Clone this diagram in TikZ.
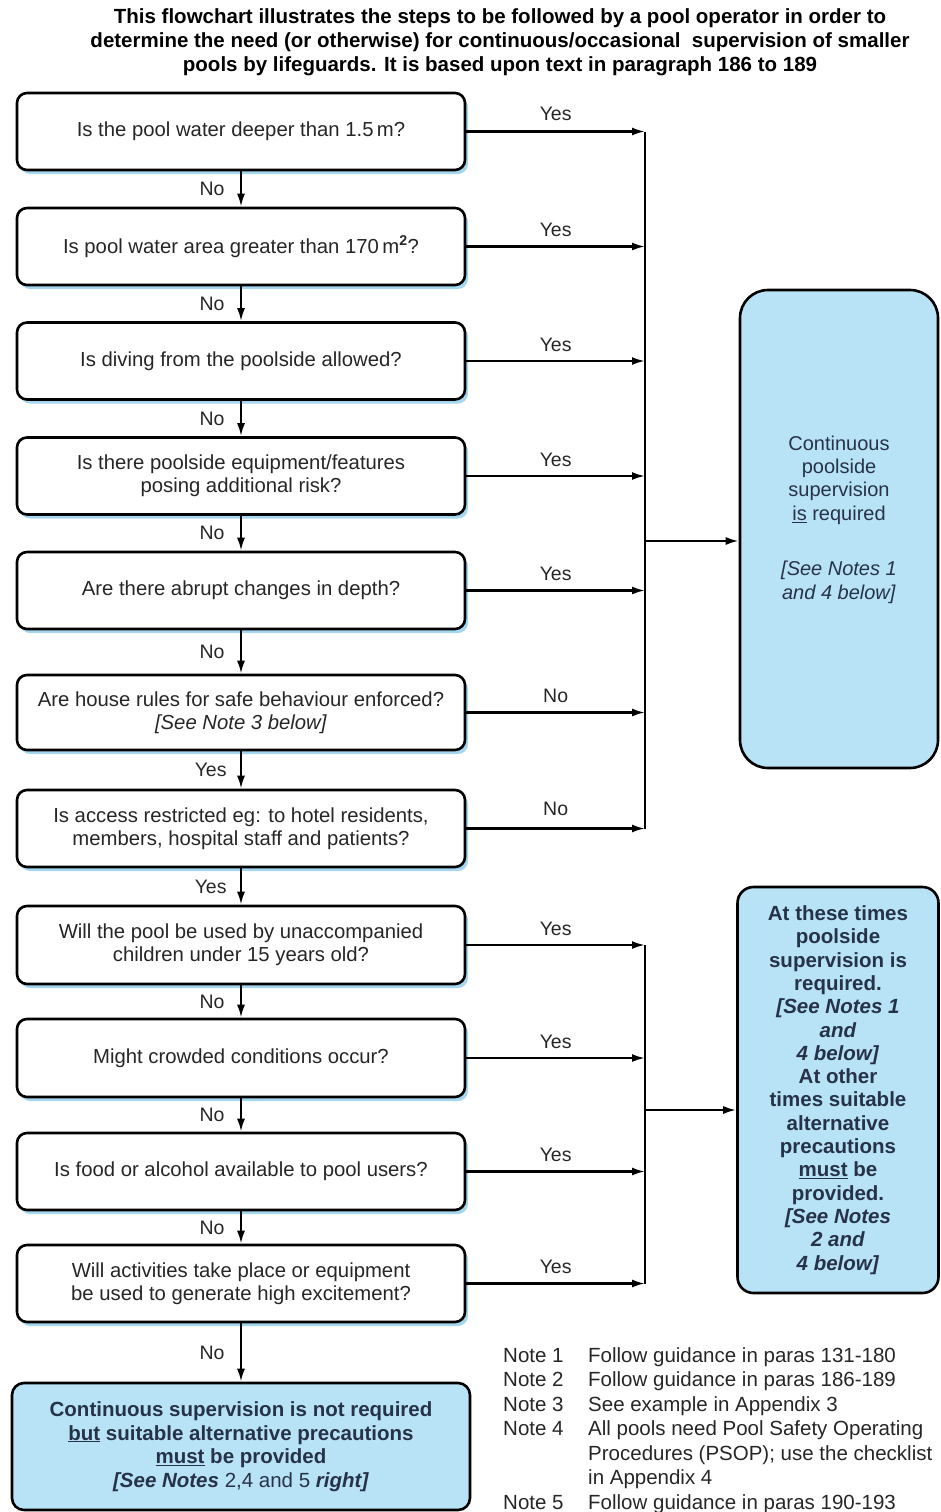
\documentclass[tikz,border=0pt]{standalone}
\usepackage{fontspec}
\setmainfont{Liberation Sans}
\usetikzlibrary{arrows.meta,shadows,positioning}
\definecolor{poolblue}{RGB}{184,227,246}
\definecolor{shadeblue}{RGB}{125,198,232}
\definecolor{qtext}{RGB}{38,38,38}
\definecolor{navytext}{RGB}{38,50,72}

\begin{document}
\begin{tikzpicture}[x=1pt,y=-1pt,
  question/.style={draw,rectangle,rounded corners=10pt,line width=2.6pt,fill=white,
    minimum width=448pt,minimum height=77pt,align=center,text=qtext,
    font=\fontsize{20.3}{23}\selectfont,
    drop shadow={shadow xshift=3pt,shadow yshift=-4pt,fill=shadeblue,opacity=0.7}},
  outcome/.style={draw,rectangle,line width=2.6pt,fill=poolblue,align=center,text=navytext},
  arr/.style={-{Latex[length=13pt,width=8pt]},line width=2.2pt},
  bus/.style={line width=2.4pt},
  lbl/.style={font=\fontsize{19.5}{23}\selectfont,text=qtext}]
\useasboundingbox (0,0) rectangle (941,1512);

\node (title) at (500,42) [align=center,font=\bfseries\fontsize{20.5}{24}\selectfont]
  {This flowchart illustrates the steps to be followed by a pool operator in order to\\
   determine the need (or otherwise) for continuous/occasional\ \ supervision of smaller\\
   pools by lifeguards. It is based upon text in paragraph 186 to 189};

\node[question] (q1) at (241,131.5) {Is the pool water deeper than 1.5\,m?};
\node[question] (q2) at (241,246.5) {Is pool water area greater than 170\,m$^{\mathbf 2}$?};
\node[question] (q3) at (241,361) {Is diving from the poolside allowed?};
\node[question] (q4) at (241,476) {Is there poolside equipment/features\\posing additional risk?};
\node[question] (q5) at (241,590.5) {Are there abrupt changes in depth?};
\node[question,minimum height=75pt] (q6) at (241,712.5) {Are house rules for safe behaviour enforced?\\\textit{[See Note 3 below]}};
\node[question] (q7) at (241,828.5) {Is access restricted eg: to hotel residents,\\members, hospital staff and patients?};
\node[question,minimum height=78pt] (q8) at (241,945) {Will the pool be used by unaccompanied\\children under 15 years old?};
\node[question,minimum height=78pt] (q9) at (241,1058) {Might crowded conditions occur?};
\node[question] (q10) at (241,1171.5) {Is food or alcohol available to pool users?};
\node[question] (q11) at (241,1283.5) {Will activities take place or equipment\\be used to generate high excitement?};

\node[outcome,rounded corners=12pt,minimum width=458pt,minimum height=127pt,
  font=\bfseries\fontsize{20.5}{23.5}\selectfont] (endbox) at (241,1446.5)
  {Continuous supervision is not required\\
   \underline{but} suitable alternative precautions\\
   \underline{must} be provided\\
   \textit{[See Notes} {\mdseries 2,4 and 5} \textit{right]}};

\node[outcome,rounded corners=28pt,minimum width=198pt,minimum height=478pt,
  font=\fontsize{20}{23.4}\selectfont] (cont) at (839,529)
  {Continuous\\poolside\\supervision\\\underline{is} required\\[32pt]
   \textit{[See Notes 1}\\\textit{and 4 below]}\\\mbox{}};

\node[outcome,rounded corners=16pt,minimum width=201pt,minimum height=406pt,
  font=\bfseries\fontsize{20.5}{23.3}\selectfont] (atth) at (838,1090)
  {At these times\\poolside\\supervision is\\required.\\
   \textit{[See Notes 1}\\\textit{and}\\\textit{4 below]}\\
   At other\\times suitable\\alternative\\precautions\\\underline{must} be\\provided.\\
   \textit{[See Notes}\\\textit{2 and}\\\textit{4 below]}};

\node (notes) [anchor=north west,inner sep=0pt,text=qtext,font=\fontsize{20.5}{24.5}\selectfont] at (503,1345)
  {\begin{tabular}{@{}p{85pt}@{}l@{}}
   Note 1 & Follow guidance in paras 131-180\\
   Note 2 & Follow guidance in paras 186-189\\
   Note 3 & See example in Appendix 3\\
   Note 4 & All pools need Pool Safety Operating\\
          & Procedures (PSOP); use the checklist\\
          & in Appendix 4\\
   Note 5 & Follow guidance in paras 190-193
   \end{tabular}};

\draw[arr] (q1.south) -- (q2.north) node[lbl,midway,left=12pt] {No};
\draw[arr] (q2.south) -- (q3.north) node[lbl,midway,left=12pt] {No};
\draw[arr] (q3.south) -- (q4.north) node[lbl,midway,left=12pt] {No};
\draw[arr] (q4.south) -- (q5.north) node[lbl,midway,left=12pt] {No};
\draw[arr] (q5.south) -- (q6.north) node[lbl,midway,left=12pt] {No};
\draw[arr] (q6.south) -- (q7.north) node[lbl,midway,left=10pt] {Yes};
\draw[arr] (q7.south) -- (q8.north) node[lbl,midway,left=10pt] {Yes};
\draw[arr] (q8.south) -- (q9.north) node[lbl,midway,left=12pt] {No};
\draw[arr] (q9.south) -- (q10.north) node[lbl,midway,left=12pt] {No};
\draw[arr] (q10.south) -- (q11.north) node[lbl,midway,left=12pt] {No};
\draw[arr] (q11.south) -- (endbox.north) node[lbl,midway,left=12pt] {No};

\coordinate (bus) at (645,0);
\draw[arr] (q1.east) -- (q1.east -| bus) node[lbl,midway,above=6pt] {Yes};
\draw[arr] (q2.east) -- (q2.east -| bus) node[lbl,midway,above=5pt] {Yes};
\draw[arr] (q3.east) -- (q3.east -| bus) node[lbl,midway,above=5pt] {Yes};
\draw[arr] (q4.east) -- (q4.east -| bus) node[lbl,midway,above=5pt] {Yes};
\draw[arr] (q5.east) -- (q5.east -| bus) node[lbl,midway,above=5pt] {Yes};
\draw[arr] (q6.east) -- (q6.east -| bus) node[lbl,midway,above=5pt] {No};
\draw[arr] (q7.east) -- (q7.east -| bus) node[lbl,midway,above=8pt] {No};
\draw[bus] (q1.east -| bus) -- (q7.east -| bus);
\coordinate (joinA) at (645,541);
\draw[arr] (joinA) -- (joinA -| cont.west);

\draw[arr] (q8.east) -- (q8.east -| bus) node[lbl,midway,above=5pt] {Yes};
\draw[arr] (q9.east) -- (q9.east -| bus) node[lbl,midway,above=5pt] {Yes};
\draw[arr] (q10.east) -- (q10.east -| bus) node[lbl,midway,above=5pt] {Yes};
\draw[arr] (q11.east) -- (q11.east -| bus) node[lbl,midway,above=5pt] {Yes};
\draw[bus] (q8.east -| bus) -- (q11.east -| bus);
\coordinate (joinB) at (645,1110);
\draw[arr] (joinB) -- (joinB -| atth.west);
\end{tikzpicture}
\end{document}
